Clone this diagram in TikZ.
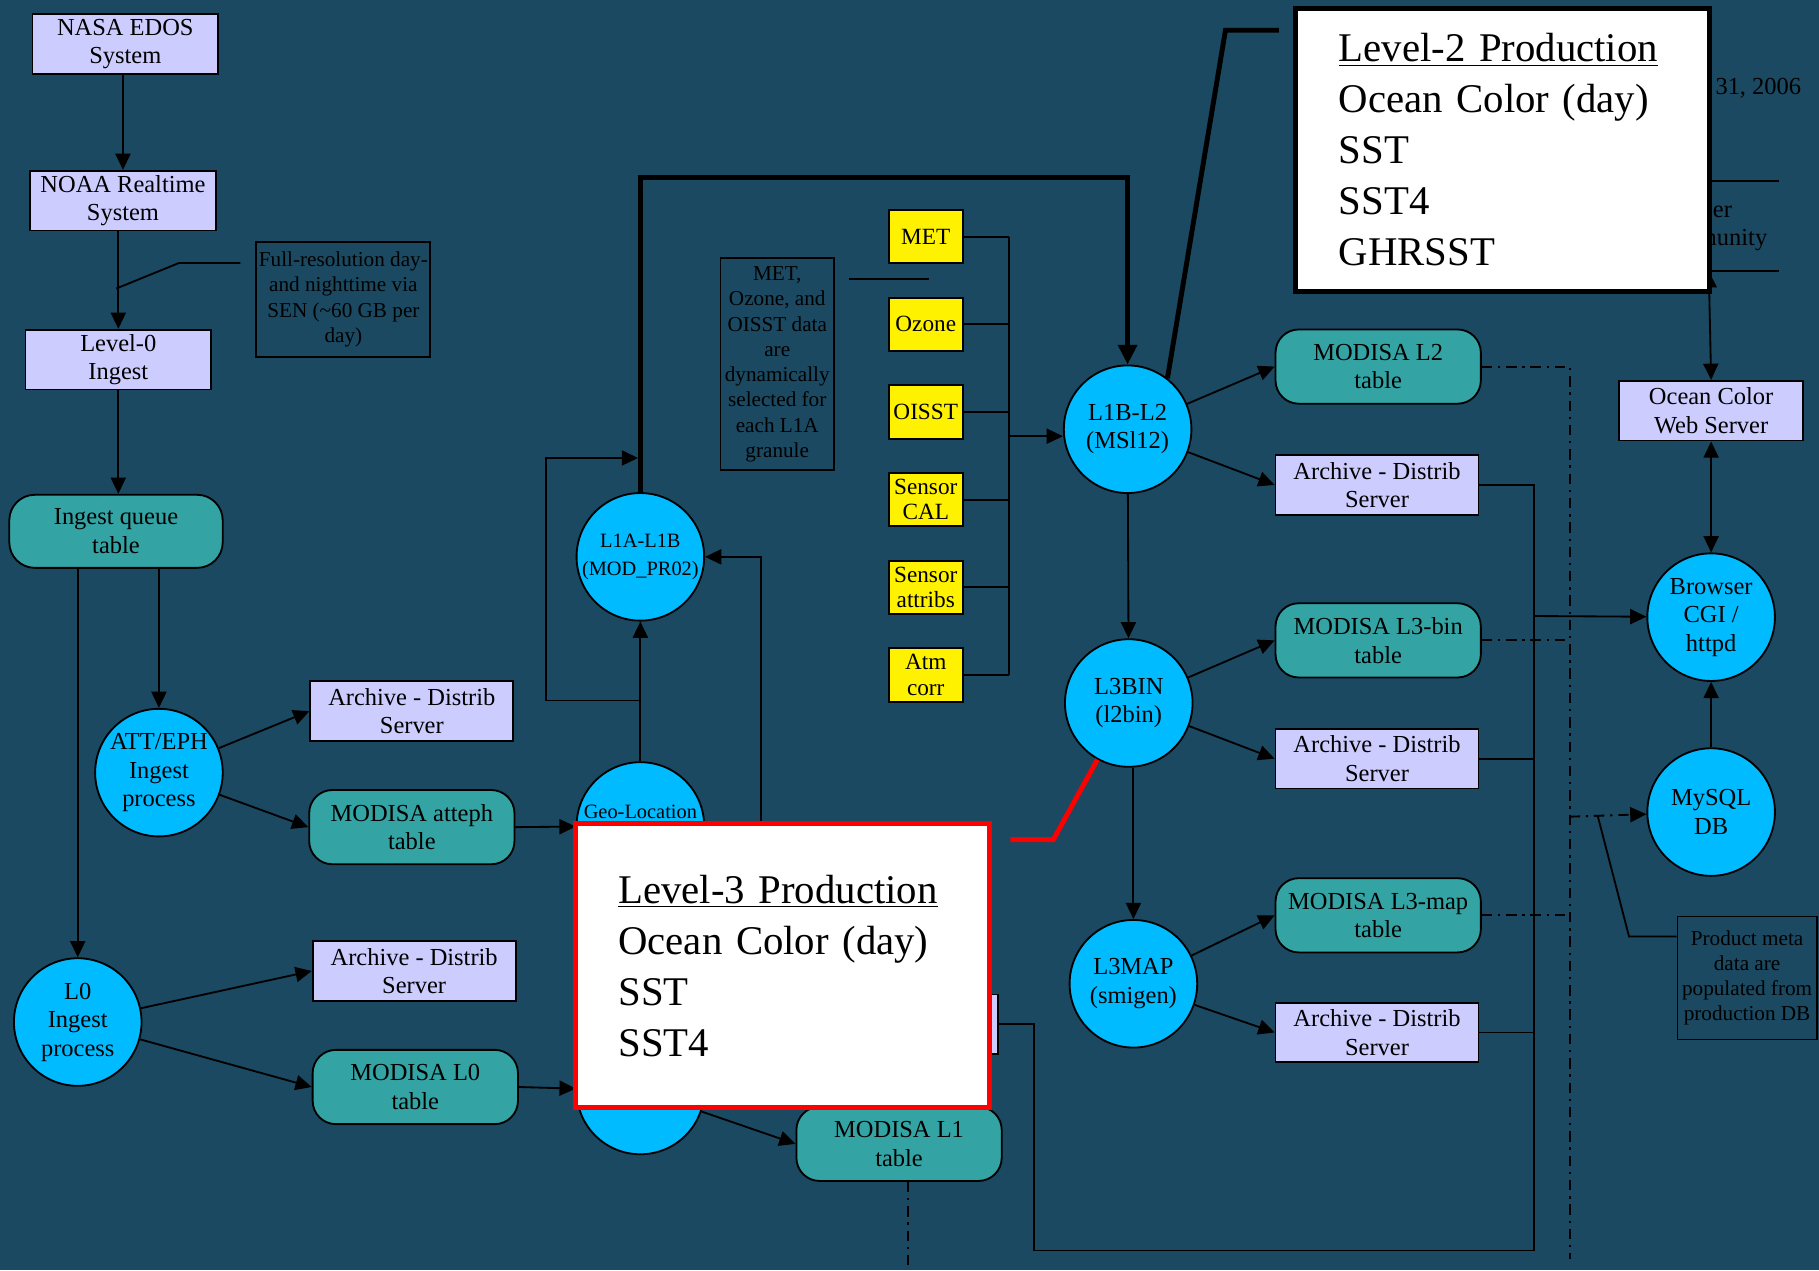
\documentclass[tikz,border=0pt]{standalone}
\usepackage{fontspec}
\setmainfont{Liberation Serif}
\usetikzlibrary{arrows.meta,positioning}
\definecolor{bgblue}{RGB}{26,73,97}
\definecolor{lav}{RGB}{204,204,255}
\definecolor{tealbox}{RGB}{51,163,163}
\definecolor{procblue}{RGB}{0,187,255}
\begin{document}
\begin{tikzpicture}[x=0.02cm,y=-0.02cm,line width=0.9pt,node distance=0.56cm,
 >={Triangle[length=2.8mm,width=2.6mm]},
 every node/.style={font=\fontsize{12}{14}\selectfont},
 box/.style={draw,fill=lav,align=center,inner sep=0pt,minimum width=3.5cm,minimum height=1.03cm},
 tbl/.style={draw,fill=tealbox,rounded corners=0.4cm,align=center,inner sep=0pt,
  minimum width=3.54cm,minimum height=1.28cm},
 proc/.style={circle,draw,fill=procblue,align=center,inner sep=0pt,minimum size=2.2cm},
 ybox/.style={draw,fill=yellow,align=center,inner sep=0pt,minimum width=1.28cm,
  minimum height=0.92cm,font=\fontsize{11.4}{12.5}\selectfont},
 note/.style={draw,align=center,inner sep=0pt,font=\fontsize{10.4}{12.4}\selectfont},
 prod/.style={draw,fill=white,line width=2.5pt,align=left,text width=5.66cm,inner xsep=0.74cm,
  minimum height=4.9cm,font=\fontsize{20}{25}\selectfont},
 fat/.style={line width=2.4pt},
 dashdot/.style={dash pattern=on 1.8mm off 1mm on 0.4mm off 1mm}]
\path[use as bounding box,fill=bgblue] (0,0) rectangle (1568,1095);

% ingest chain
\node[box,minimum width=3.2cm] (edos) at (108,38) {NASA EDOS\\System};
\node[box,minimum width=3.2cm] (noaa) at (106,173) {NOAA Realtime\\System};
\node[box,minimum width=3.2cm] (lzero) at (102,310) {Level-0\\Ingest};
\node[note,minimum width=3cm,minimum height=1.98cm] (fullnote) at (296,258)
 {Full-resolution day-\\and nighttime via\\SEN (\textasciitilde60 GB per\\day)};
\node[tbl,minimum width=3.68cm,minimum height=1.26cm,rounded corners=0.44cm] (queue) at (100,458) {Ingest queue\\table};
\node[proc] (attproc) at (137,666) {ATT/EPH\\Ingest\\process};
\node[box] (arch1) at (355,613) {Archive - Distrib\\Server};
\node[tbl] (atteph) at (355,713) {MODISA atteph\\table};
\node[proc] (l0proc) at (67,881) {L0\\Ingest\\process};
\node[box] (arch2) at (357,837) {Archive - Distrib\\Server};
\node[tbl] (l0tbl) at (358,937) {MODISA L0\\table};

% level-1
\node[proc,font=\fontsize{10}{14}\selectfont] (l1al1b) at (552,480) {L1A-L1B\\(MOD\_PR02)};
\node[proc,font=\fontsize{10}{14}\selectfont] (geo) at (552,712) {Geo-Location\\\mbox{}};
\node[proc] (l0l1a) at (552,940) {};
\node[box] (arch6) at (773,883) {};
\node[tbl] (l1tbl) at (775,986) {MODISA L1\\table};
\coordinate (hid) at (656,760);
\coordinate (top) at (760,153);

\node[note,minimum width=1.96cm,minimum height=3.66cm] (metnote) at (670,314)
 {MET,\\Ozone, and\\OISST data\\are\\dynamically\\selected for\\each L1A\\granule};
\node[ybox] (met) at (798,204) {MET};
\node[ybox,below=of met] (ozone) {Ozone};
\node[ybox,below=of ozone] (oisst) {OISST};
\node[ybox,below=of oisst] (scal) {Sensor\\CAL};
\node[ybox,below=of scal] (sattr) {Sensor\\attribs};
\node[ybox,below=of sattr] (atm) {Atm\\corr};
\coordinate (bus) at (870,376);

% level-2 / level-3
\node[proc] (l1bl2) at (972,370) {L1B-L2\\(MSl12)};
\node[tbl] (l2tbl) at (1188,316) {MODISA L2\\table};
\node[box] (arch3) at (1187,418) {Archive - Distrib\\Server};
\node[proc] (l3bin) at (973,606) {L3BIN\\(l2bin)};
\node[tbl] (l3btbl) at (1188,552) {MODISA L3-bin\\table};
\node[box] (arch4) at (1187,654) {Archive - Distrib\\Server};
\node[proc] (l3map) at (977,848) {L3MAP\\(smigen)};
\node[tbl] (l3mtbl) at (1188,789) {MODISA L3-map\\table};
\node[box] (arch5) at (1187,890) {Archive - Distrib\\Server};
\coordinate (abus) at (1322,531);
\coordinate (aend) at (1322,1078);
\coordinate (acorner) at (891,1078);
\coordinate (dbus) at (1353,704);
\coordinate (dend) at (1353,1085);

% web side
\node[inner sep=0pt,minimum width=2.4cm,minimum height=1.52cm,align=center] (user) at (1473,195) {User\\Community};
\node[anchor=west,inner sep=0pt] (date) at (1478,76) {31, 2006};
\node[box,minimum width=3.18cm] (web) at (1475,354) {Ocean Color\\Web Server};
\node[proc] (browser) at (1475,532) {Browser\\CGI /\\httpd};
\node[proc] (mysql) at (1475,700) {MySQL\\DB};
\node[note,minimum width=2.4cm,minimum height=2.12cm] (pnote) at (1506,843)
 {Product meta\\data are\\populated from\\production DB};

\draw[->] (edos.south -| noaa) -- (noaa.north);
\draw[->] (noaa.south -| lzero) -- (lzero.north);
\draw (fullnote.north west) ++(-13,19) -- ++(-53,0) -- ++(-54,22);
\draw[->] (lzero) -- (lzero |- queue.north);
\draw[->] (queue.south -| attproc) -- (attproc);
\draw[->] (queue.south -| l0proc) -- (l0proc);
\draw[->] (attproc) -- (arch1.west);
\draw[->] (attproc) -- (atteph.west);
\draw[->] (l0proc) -- (arch2.west);
\draw[->] (l0proc) -- (l0tbl.west);
\draw[->] (atteph.east) -- (geo);
\draw[->] (l0tbl.east) -- (l0l1a);
\draw[->] (l0l1a) -- (l1tbl.west);
\draw[dashdot] (l1tbl.south) ++(8,0) -- ++(0,78);
\draw[->] (geo) -- (l1al1b);
\draw[->] (l1al1b.south) ++(0,68) -- ++(-81,0) -- ++(0,-209) -- ++(79,0);
\draw[->] (hid) |- (l1al1b.east);
\draw[fat,-{Triangle[length=3.4mm,width=3.2mm]}] (l1al1b.north) |- (top) -| (l1bl2.north);
\draw (metnote.north east) ++(12,19) -- ++(69,0);
\foreach \n in {met,ozone,oisst,scal,sattr,atm}
 \draw (\n.east) -- (\n.east -| bus);
\draw (met.east -| bus) -- (atm.east -| bus);
\draw[->] (bus) -- (bus -| l1bl2.west);

\draw[->] (l1bl2) -- (l2tbl.west);
\draw[->] (l1bl2) -- (arch3.west);
\draw[->] (l1bl2) -- (l3bin);
\draw[->] (l3bin) -- (l3btbl.west);
\draw[->] (l3bin) -- (arch4.west);
\draw[->] (l3map |- l3bin.south) -- (l3map.north);
\draw[->] (l3map) -- (l3mtbl.west);
\draw[->] (l3map) -- (arch5.west);

\draw (arch6.east) -| (acorner) -- (aend) -- (aend |- arch3.east) -- (arch3.east);
\draw (arch4.east) -- (arch4.east -| abus);
\draw (arch5.east) -- (arch5.east -| abus);
\draw[->] (abus) -- (browser);
\draw[dashdot] (l2tbl.east) -| (dend);
\draw[dashdot] (l3btbl.east) -- (l3btbl.east -| dend);
\draw[dashdot] (l3mtbl.east) -- (l3mtbl.east -| dend);
\draw[dashdot,->] (dbus) -- (mysql);

\draw (user.north west) -- (user.north east) (user.south west) -- (user.south east);
\draw[<->] (user.south) -- (web.north);
\draw[<->] (web) -- (browser);
\draw[->] (mysql) -- (browser);
\draw (pnote.north west) ++(0,18) -- ++(-41,0) -- ++(-27,-104);

% production call-outs
\draw[red,fat] (l3bin.-119) -- ++(-38,69) -- ++(-37,0);
\draw[fat] (l1bl2.52) -- ++(50,-300) -- ++(46,0);
\node[prod,draw=red] (lvthree) at (674.5,832.5)
 {\underline{Level-3 Production}\\Ocean Color (day)\\SST\\SST4};
\node[prod,minimum height=4.88cm] (lvtwo) at (1295.5,129)
 {\underline{Level-2 Production}\\Ocean Color (day)\\SST\\SST4\\GHRSST};
\end{tikzpicture}
\end{document}
